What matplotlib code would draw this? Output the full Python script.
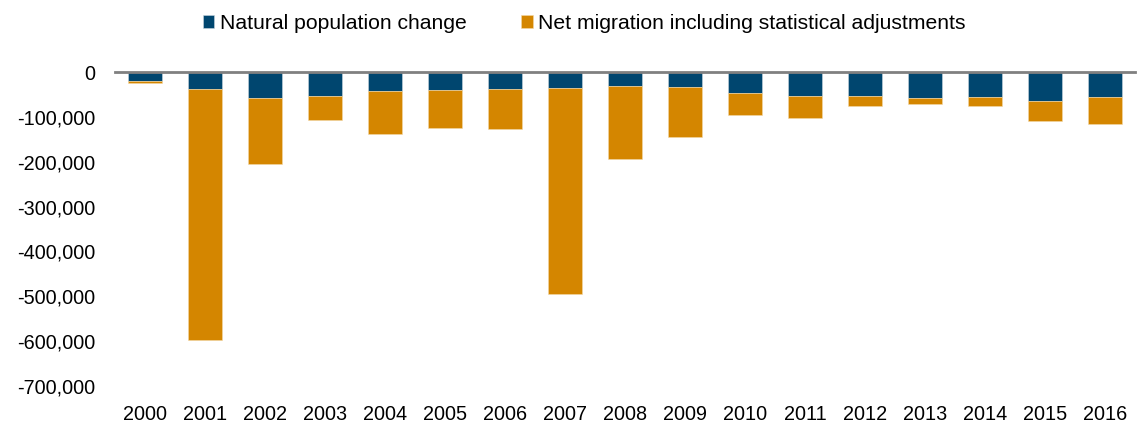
import matplotlib.pyplot as plt
import numpy as np
from matplotlib.ticker import FuncFormatter

years = [str(y) for y in range(2000, 2017)]
natural = [-20000, -38600, -58600, -53500, -42300, -40000, -37900, -36400, -30500,
           -33400, -46800, -54200, -53500, -58000, -55700, -63800, -56500]
migration = [-5000, -558400, -147000, -52500, -95700, -85500, -88100, -458600, -164000,
             -112100, -48200, -48800, -22200, -14000, -20700, -46000, -58500]

navy = "#00466F"
orange = "#D48600"

plt.rcParams["font.family"] = ["Liberation Sans", "DejaVu Sans"]

fig = plt.figure(figsize=(11.39, 4.24), dpi=100)
ax = fig.add_axes([0.101, 0.0896, 0.8955, 0.7404])

x = np.arange(len(years))
ax.bar(x, natural, width=0.57, color=navy, edgecolor="#c9d6df", linewidth=0.4,
       label="Natural population change")
ax.bar(x, migration, bottom=natural, width=0.57, color=orange, edgecolor="#f3d9a8",
       linewidth=0.4, label="Net migration including statistical adjustments")

ax.set_xlim(-0.5, len(years) - 0.5)
ax.set_ylim(-700000, 0)
ax.set_yticks(np.arange(-700000, 1, 100000))
ax.yaxis.set_major_formatter(FuncFormatter(lambda v, p: f"{int(v):,}"))
ax.set_xticks(x)
ax.set_xticklabels(years)
ax.tick_params(axis="both", length=0, labelsize=14.3, colors="#000000")
ax.tick_params(axis="y", pad=14.5)
ax.tick_params(axis="x", pad=13.5)

for s in ["left", "right", "bottom"]:
    ax.spines[s].set_visible(False)
ax.spines["top"].set_color("#808080")
ax.spines["top"].set_linewidth(2)

fig.legend(loc="center", bbox_to_anchor=(0.513, 0.945), ncol=2, frameon=False,
           fontsize=15.2, handlelength=0.55, handleheight=0.55, handletextpad=0.25,
           columnspacing=2.6)

fig.savefig("out.png", dpi=100)
